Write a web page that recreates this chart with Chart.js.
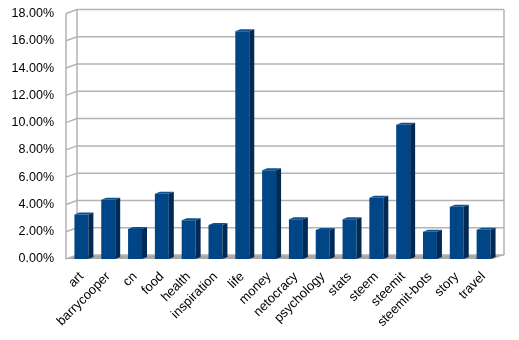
<!DOCTYPE html>
<html><head><meta charset="utf-8">
<script src="https://cdn.jsdelivr.net/npm/chart.js@4"></script>
<style>html,body{margin:0;padding:0;background:#fff}#wrap{width:519px;height:340px}</style>
</head><body><div id="wrap"><canvas id="c" width="519" height="340"></canvas></div>
<script>
const categories = ["art","barrycooper","cn","food","health","inspiration","life","money","netocracy","psychology","stats","steem","steemit","steemit-bots","story","travel"];
const shares = [3.26, 4.35, 2.2, 4.78, 2.85, 2.49, 16.7, 6.5, 2.92, 2.12, 2.92, 4.49, 9.85, 2.0, 3.84, 2.15];
const yTicks = [0, 2, 4, 6, 8, 10, 12, 14, 16, 18];

const DX = 11, DY = 4;
const walls = {
  id: 'walls',
  beforeDatasetsDraw(chart) {
    const ctx = chart.ctx, y = chart.scales.y, a = chart.chartArea;
    const fx = a.left - 2, bx = fx + DX, rx = a.right + 7;
    const y0 = y.getPixelForValue(0), yTop = y.getPixelForValue(18);
    ctx.save();
    ctx.fillStyle = '#a8a8a8';
    ctx.beginPath();
    ctx.moveTo(fx, y0); ctx.lineTo(bx, y0 - DY); ctx.lineTo(rx, y0 - DY); ctx.lineTo(rx - DX, y0); ctx.closePath(); ctx.fill();
    ctx.strokeStyle = '#b3b3b3'; ctx.lineWidth = 1.5;
    yTicks.forEach(v => {
      const py = y.getPixelForValue(v);
      ctx.beginPath(); ctx.moveTo(fx, py); ctx.lineTo(bx, py - DY); ctx.lineTo(rx, py - DY); ctx.stroke();
    });
    ctx.beginPath();
    ctx.moveTo(fx, yTop); ctx.lineTo(fx, y0);
    ctx.moveTo(bx, yTop - DY); ctx.lineTo(bx, y0 - DY);
    ctx.moveTo(rx, yTop - DY); ctx.lineTo(rx, y0 - DY);
    ctx.stroke();
    ctx.restore();
  },
  afterDatasetsDraw(chart) {
    const ctx = chart.ctx, meta = chart.getDatasetMeta(0);
    ctx.save();
    meta.data.forEach(bar => {
      const w = bar.width, l = bar.x - w / 2, r = bar.x + w / 2, t = bar.y, b = bar.base;
      const sd = 5, su = 2;
      ctx.fillStyle = '#002a55';
      ctx.beginPath();
      ctx.moveTo(r, t); ctx.lineTo(r + sd, t - su); ctx.lineTo(r + sd, b - su); ctx.lineTo(r, b); ctx.closePath(); ctx.fill();
      ctx.fillStyle = '#0d4f8f';
      ctx.beginPath();
      ctx.moveTo(l, t); ctx.lineTo(l + sd, t - su); ctx.lineTo(r + sd, t - su); ctx.lineTo(r, t); ctx.closePath(); ctx.fill();
    });
    ctx.restore();
  }
};

new Chart(document.getElementById('c'), {
  type: 'bar',
  data: { labels: categories, datasets: [{ data: shares, backgroundColor: '#004586', borderWidth: 0, barPercentage: 0.52, categoryPercentage: 1 }] },
  options: {
    responsive: false, animation: false, devicePixelRatio: 1,
    layout: { padding: { top: 5, right: 22, left: 0, bottom: 0 } },
    plugins: { legend: { display: false }, tooltip: { enabled: false } },
    scales: {
      x: {
        grid: { display: false }, border: { display: false },
        ticks: { minRotation: 45, maxRotation: 45, autoSkip: false, color: '#000', font: { family: 'Liberation Sans', size: 13 }, padding: 2 },
        afterFit(s) { s.height = 81; }
      },
      y: {
        min: 0, max: 18,
        afterBuildTicks(s) { s.ticks = yTicks.map(v => ({ value: v })); },
        grid: { display: false }, border: { display: false },
        ticks: { color: '#000', font: { family: 'Liberation Sans', size: 12.5 }, padding: 6, callback: v => v.toFixed(2) + '%' },
        afterFit(s) { s.width = 68; }
      }
    }
  },
  plugins: [walls]
});
</script></body></html>
